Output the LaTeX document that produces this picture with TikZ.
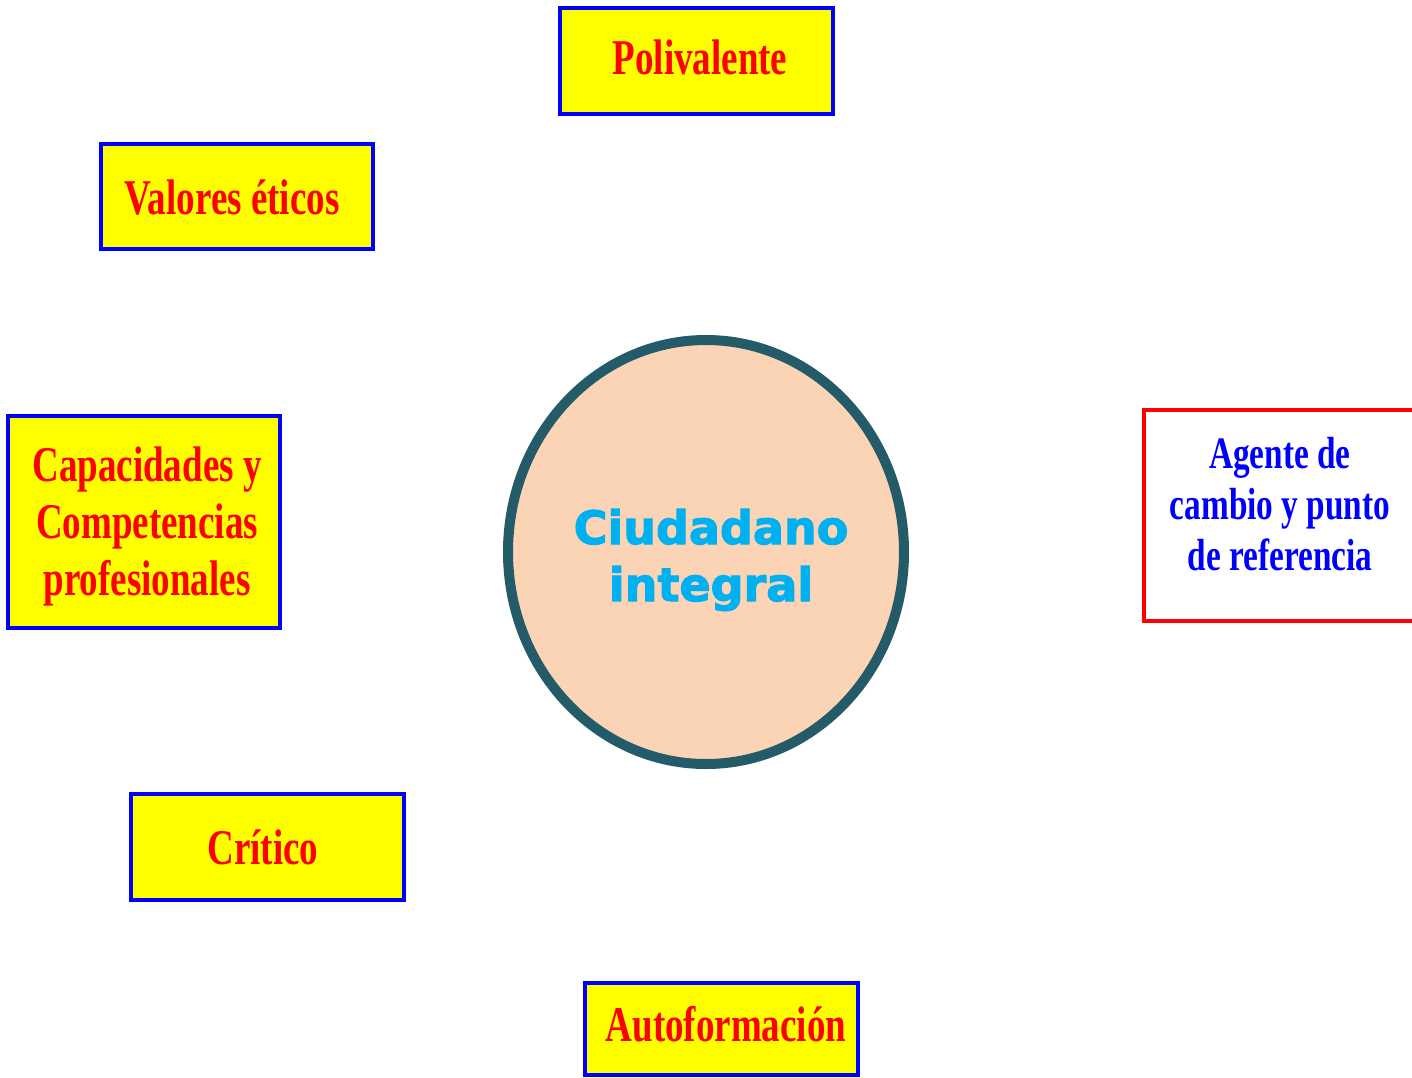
\documentclass[tikz,border=0pt]{standalone}
\usepackage{fontspec}
\setmainfont{Liberation Serif}
\newfontfamily\condfont{Liberation Serif}[FakeStretch=0.74]
\newfontfamily\heavyfont{DejaVu Sans}[FakeBold=2.5]
\definecolor{boxyellow}{HTML}{FFFF00}
\definecolor{boxblue}{HTML}{0000FF}
\definecolor{txtred}{HTML}{FF0000}
\definecolor{ringcol}{HTML}{235B68}
\definecolor{peach}{HTML}{FAD4B4}
\definecolor{cyantxt}{HTML}{00B0F0}
\begin{document}
\begin{tikzpicture}[x=1pt,y=-1pt,
  ybox/.style={draw=boxblue, line width=4pt, fill=boxyellow, rectangle, inner sep=0pt},
  rbox/.style={draw=txtred, line width=4pt, fill=white, rectangle, inner sep=0pt},
  ytext/.style={text=txtred, font=\condfont\bfseries\fontsize{50}{57}\selectfont,
    align=center, inner sep=0pt},
  btext/.style={text=boxblue, font=\condfont\bfseries\fontsize{45}{51}\selectfont,
    align=center, inner sep=0pt},
  coretext/.style={text=cyantxt, font=\heavyfont\bfseries\fontsize{46}{57}\selectfont,
    align=center, inner sep=0pt}
]
\useasboundingbox (0,0) rectangle (1412,1077);
\clip (0,0) rectangle (1412,1077);
\fill[white] (0,0) rectangle (1412,1077);

\node[ybox, minimum width=273pt, minimum height=106pt] (poli) at (696.5,61) {};
\node[ytext] (politxt) at (700,57) {Polivalente};
\node[ybox, minimum width=272pt, minimum height=105pt] (valores) at (237,196.5) {};
\node[ytext] (valorestxt) at (232,198) {Valores éticos};
\node[ybox, minimum width=272pt, minimum height=212pt] (capac) at (144,522) {};
\node[ytext] (capactxt) at (147,526) {Capacidades y\\Competencias\\profesionales};
\node[ybox, minimum width=273pt, minimum height=106pt] (critico) at (267.5,847) {};
\node[ytext] (criticotxt) at (263,847) {Crítico};
\node[ybox, minimum width=273pt, minimum height=92pt] (autof) at (721.5,1029) {};
\node[ytext] (autoftxt) at (726,1024) {Autoformación};
\node[rbox, minimum width=290pt, minimum height=211pt] (agente) at (1289,515.5) {};
\node[btext] (agentetxt) at (1280,504) {Agente de\\cambio y punto\\de referencia};

\draw[ringcol, line width=10pt, fill=peach] (706,552) ellipse (198pt and 212pt);
\node[coretext] (core) at (711,560) {Ciudadano\\integral};
\end{tikzpicture}
\end{document}
